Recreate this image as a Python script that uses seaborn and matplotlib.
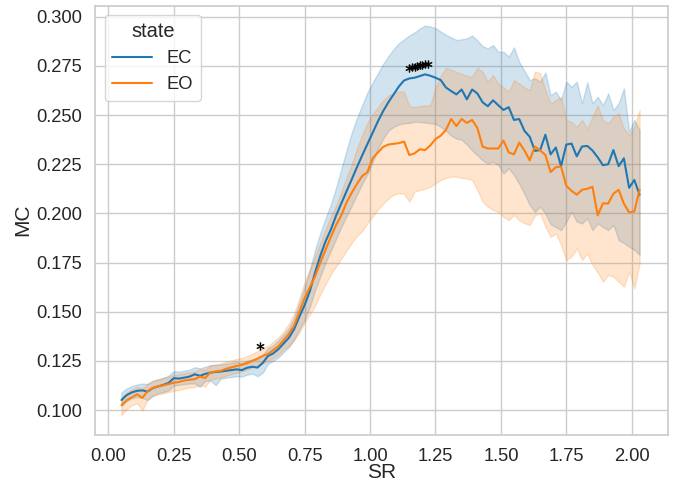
import numpy as np
import pandas as pd
import matplotlib
matplotlib.use("Agg")
import matplotlib.pyplot as plt
import seaborn as sns

# x grid (SR)
sr = np.round(np.linspace(0.05, 2.03, 100), 2)

ec_mean = [
    .1051, .1076, .1090, .1098, .1100, .1094, .1112, .1120, .1128, .1138,
    .1162, .1160, .1165, .1170, .1182, .1174, .1184, .1190, .1194, .1196,
    .1200, .1203, .1207, .1203, .1215, .1220, .1216, .1240, .1275, .1288,
    .1310, .1339, .1368, .1412, .1475, .1534, .1605, .1700, .1785, .1858,
    .1917, .1988, .2050, .2112, .2173, .2235, .2295, .2353, .2410, .2468,
    .2520, .2565, .2605, .2645, .2676, .2686, .2690, .2698, .2707, .2700,
    .2690, .2678, .2640, .2622, .2605, .2630, .2580, .2630, .2610, .2565,
    .2545, .2575, .2550, .2526, .2540, .2475, .2480, .2420, .2390, .2318,
    .2322, .2400, .2300, .2335, .2240, .2350, .2355, .2290, .2340, .2343,
    .2320, .2285, .2245, .2250, .2322, .2240, .2280, .2130, .2170, .2095,
]
ec_low = [
    .1020, .1045, .1060, .1065, .1062, .1050, .1075, .1085, .1092, .1100,
    .1125, .1128, .1132, .1135, .1135, .1118, .1148, .1150, .1127, .1160,
    .1165, .1168, .1172, .1170, .1180, .1185, .1172, .1190, .1235, .1250,
    .1268, .1295, .1320, .1360, .1410, .1460, .1525, .1610, .1680, .1750,
    .1810, .1870, .1930, .1985, .2040, .2095, .2150, .2200, .2260, .2330,
    .2380, .2420, .2440, .2452, .2458, .2460, .2466, .2465, .2462, .2458,
    .2455, .2440, .2420, .2395, .2380, .2375, .2350, .2320, .2295, .2270,
    .2254, .2263, .2246, .2203, .2229, .2195, .2150, .2100, .2042, .2008,
    .2034, .2000, .1945, .1930, .1915, .1958, .2008, .1958, .1949, .1975,
    .1915, .1949, .1930, .1915, .1941, .1864, .1850, .1830, .1814, .1790,
]
ec_high = [
    .1090, .1110, .1122, .1130, .1135, .1132, .1148, .1155, .1163, .1175,
    .1198, .1195, .1200, .1205, .1218, .1212, .1220, .1228, .1230, .1232,
    .1236, .1240, .1244, .1240, .1252, .1258, .1258, .1282, .1315, .1330,
    .1355, .1385, .1418, .1470, .1545, .1625, .1715, .1815, .1900, .1975,
    .2045, .2130, .2225, .2320, .2410, .2485, .2550, .2615, .2665, .2712,
    .2760, .2800, .2835, .2865, .2885, .2905, .2920, .2940, .2955, .2950,
    .2942, .2925, .2908, .2895, .2882, .2885, .2890, .2905, .2880, .2850,
    .2839, .2856, .2822, .2822, .2797, .2844, .2770, .2725, .2678, .2687,
    .2670, .2716, .2600, .2619, .2576, .2670, .2644, .2670, .2560, .2667,
    .2560, .2593, .2550, .2610, .2525, .2560, .2636, .2415, .2475, .2424,
]

eo_mean = [
    .1025, .1050, .1065, .1080, .1062, .1097, .1113, .1120, .1126, .1132,
    .1139, .1143, .1150, .1154, .1157, .1170, .1163, .1192, .1196, .1200,
    .1210, .1217, .1224, .1230, .1238, .1250, .1262, .1275, .1285, .1305,
    .1325, .1356, .1388, .1430, .1500, .1570, .1625, .1680, .1750, .1815,
    .1880, .1940, .1990, .2055, .2105, .2150, .2190, .2210, .2280, .2310,
    .2338, .2350, .2354, .2357, .2365, .2297, .2305, .2326, .2322, .2345,
    .2378, .2395, .2425, .2480, .2444, .2480, .2460, .2475, .2435, .2340,
    .2330, .2330, .2330, .2370, .2310, .2300, .2360, .2320, .2270, .2340,
    .2320, .2297, .2210, .2235, .2238, .2140, .2115, .2095, .2120, .2125,
    .2135, .1990, .2051, .2050, .2100, .2120, .2050, .2005, .2010, .2120,
]
eo_low = [
    .0975, .1005, .1025, .1035, .0998, .1055, .1070, .1080, .1085, .1092,
    .1098, .1102, .1110, .1115, .1118, .1128, .1120, .1155, .1160, .1165,
    .1175, .1182, .1190, .1196, .1204, .1216, .1226, .1238, .1248, .1265,
    .1282, .1310, .1325, .1355, .1395, .1445, .1485, .1530, .1590, .1640,
    .1690, .1730, .1770, .1810, .1850, .1885, .1910, .1950, .1985, .2020,
    .2050, .2075, .2095, .2102, .2100, .2060, .2110, .2119, .2125, .2136,
    .2153, .2170, .2180, .2187, .2187, .2180, .2178, .2170, .2119, .2060,
    .2034, .2017, .2008, .1983, .1966, .1992, .1966, .1950, .1941, .1990,
    .2000, .1932, .1881, .1898, .1840, .1763, .1780, .1822, .1763, .1797,
    .1738, .1700, .1653, .1687, .1678, .1653, .1627, .1704, .1619, .1746,
]
eo_high = [
    .1065, .1090, .1105, .1118, .1110, .1135, .1150, .1158, .1165, .1170,
    .1178, .1182, .1188, .1192, .1196, .1208, .1205, .1228, .1232, .1236,
    .1246, .1253, .1260, .1265, .1274, .1286, .1300, .1315, .1325, .1348,
    .1370, .1400, .1440, .1490, .1570, .1650, .1715, .1780, .1850, .1920,
    .1985, .2040, .2110, .2180, .2250, .2330, .2400, .2460, .2505, .2540,
    .2575, .2600, .2612, .2620, .2620, .2545, .2542, .2545, .2548, .2550,
    .2640, .2700, .2740, .2730, .2720, .2710, .2700, .2695, .2740, .2720,
    .2670, .2704, .2661, .2640, .2619, .2678, .2661, .2640, .2627, .2721,
    .2712, .2627, .2560, .2576, .2593, .2475, .2466, .2440, .2475, .2432,
    .2492, .2550, .2475, .2458, .2492, .2509, .2432, .2398, .2440, .2526,
]

states = ["EC", "EO"]

# significance markers
sig_x = [0.58, 1.15, 1.16, 1.17, 1.18, 1.19, 1.20, 1.21, 1.22]
sig_y = [0.1327, 0.2740, 0.2743, 0.2746, 0.2749, 0.2752, 0.2756, 0.2759, 0.2762]

# long-format table: three samples per x (low, mean, high) per state
frames = []
for st, arrs in zip(states, [(ec_low, ec_mean, ec_high), (eo_low, eo_mean, eo_high)]):
    for a in arrs:
        frames.append(pd.DataFrame({"SR": sr, "MC": a, "state": st}))
df = pd.concat(frames, ignore_index=True)

sns.set_theme(style="whitegrid", palette="tab10", font_scale=1.2)
plt.rcParams["font.family"] = ["Liberation Sans", "DejaVu Sans"]

fig, ax = plt.subplots(figsize=(6.73, 4.84), dpi=100)
fig.subplots_adjust(left=0.1418, right=0.9929, bottom=0.102, top=0.9886)

sns.lineplot(data=df, x="SR", y="MC", hue="state", hue_order=states,
             estimator="median", errorbar=("pi", 100), ax=ax, linewidth=1.5)

ax.scatter(sig_x, sig_y, marker="$*$", s=30, color="black",
           edgecolors="black", linewidths=0.4, zorder=5)

ax.set_xlim(-0.0495, 2.1395)
ax.set_ylim(0.0875, 0.3057)
ax.set_xlabel("SR", labelpad=-1, fontsize=15)
ax.set_ylabel("MC", labelpad=3, fontsize=15)
ax.legend(title="state", loc="upper left", handlelength=2.2)

fig.savefig("out.png", dpi=100)
